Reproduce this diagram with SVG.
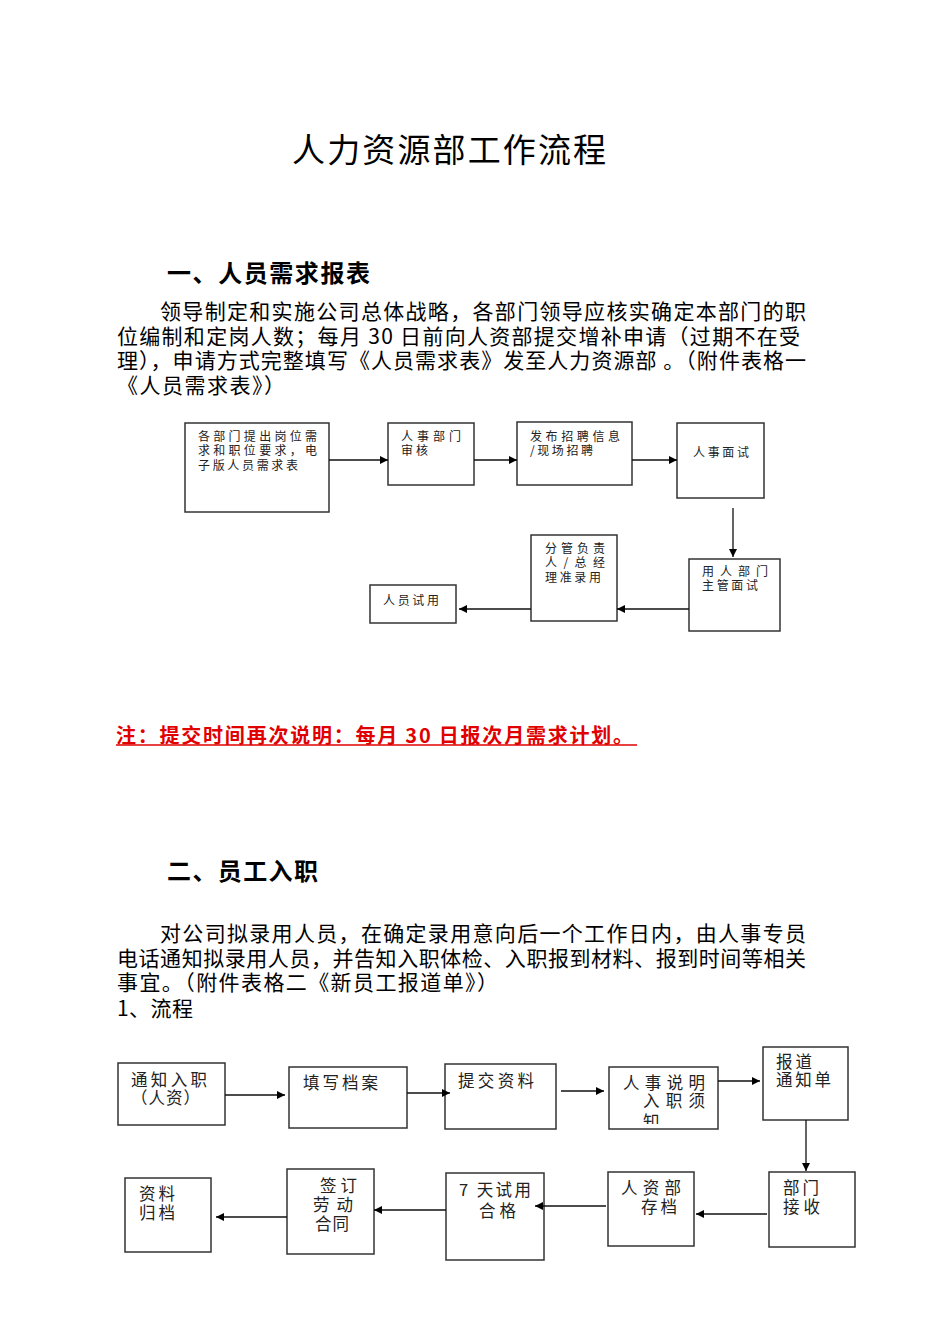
<svg xmlns="http://www.w3.org/2000/svg" width="950" height="1344" viewBox="0 0 950 1344">
<style>
text{font-family:"Noto Sans CJK SC","Noto Sans",sans-serif;fill:#000}
.t{font-size:33px}
.h{font-size:24px;font-weight:bold}
.p{font-size:21px}
.s{font-size:12px;fill:#222}
.m{font-size:16.5px;fill:#222}
.red{font-size:20px;font-weight:bold;fill:#e00000}
.box{fill:#fff;stroke:#333;stroke-width:1.5}
.ln{stroke:#111;stroke-width:1.3;fill:none;marker-end:url(#ah)}
</style>
<defs>
<marker id="ah" viewBox="0 0 10 10" refX="10" refY="5" markerWidth="8" markerHeight="8" markerUnits="userSpaceOnUse" orient="auto"><path d="M0,0L10,5L0,10z" fill="#000"/></marker>
<clipPath id="c4"><rect x="609" y="1067" width="109" height="57"/></clipPath>
</defs>
<rect width="950" height="1344" fill="#fff"/>
<text class="t" x="292" y="162" textLength="314">人力资源部工作流程</text>
<text class="h" x="167" y="282" textLength="203">一、人员需求报表</text>
<text class="p" x="160" y="319" textLength="646">领导制定和实施公司总体战略，各部门领导应核实确定本部门的职</text>
<text class="p" x="117" y="344" textLength="683">位编制和定岗人数；每月 30 日前向人资部提交增补申请（过期不在受</text>
<text class="p" x="117" y="368" textLength="689">理），申请方式完整填写《人员需求表》发至人力资源部 。（附件表格一</text>
<text class="p" x="117" y="393" textLength="168">《人员需求表》）</text>
<g id="n1a"><rect class="box" x="185" y="423" width="144" height="89"/>
<text class="s" x="198" y="441" textLength="119">各部门提出岗位需</text>
<text class="s" x="198" y="455" textLength="119">求和职位要求，电</text>
<text class="s" x="198" y="470" textLength="100">子版人员需求表</text></g>
<g id="n1b"><rect class="box" x="388" y="423" width="86" height="62"/>
<text class="s" x="401" y="441" textLength="60">人事部门</text>
<text class="s" x="401" y="455" textLength="27">审核</text></g>
<g id="n1c"><rect class="box" x="517" y="422" width="115" height="63"/>
<text class="s" x="530" y="441" textLength="90">发布招聘信息</text>
<text class="s" x="530" y="455" textLength="63">/现场招聘</text></g>
<g id="n1d"><rect class="box" x="677" y="423" width="87" height="75"/>
<text class="s" x="693" y="457" textLength="56">人事面试</text></g>
<g id="n1e"><rect class="box" x="689" y="559" width="91" height="72"/>
<text class="s" x="702" y="576" textLength="66">用人部门</text>
<text class="s" x="702" y="590" textLength="56">主管面试</text></g>
<g id="n1f"><rect class="box" x="531" y="535" width="86" height="86"/>
<text class="s" x="545" y="553" textLength="60">分管负责</text>
<text class="s" x="545" y="567" textLength="60">人/总经</text>
<text class="s" x="545" y="582" textLength="56">理准录用</text></g>
<g id="n1g"><rect class="box" x="370" y="585" width="86" height="38"/>
<text class="s" x="383" y="605" textLength="56">人员试用</text></g>
<g id="connectors1">
<line class="ln" x1="329" y1="460" x2="388" y2="460"/>
<line class="ln" x1="474" y1="460" x2="517" y2="460"/>
<line class="ln" x1="632" y1="460" x2="677" y2="460"/>
<line class="ln" x1="733" y1="508" x2="733" y2="557"/>
<line class="ln" x1="689" y1="609" x2="617" y2="609"/>
<line class="ln" x1="531" y1="609" x2="459" y2="609"/>
</g>
<text class="red" x="116" y="743" textLength="517">注：提交时间再次说明：每月 30 日报次月需求计划。</text>
<line x1="116" y1="745" x2="637" y2="745" stroke="#e00000" stroke-width="1.5"/>
<text class="h" x="167" y="880" textLength="151">二、员工入职</text>
<text class="p" x="160" y="941" textLength="646">对公司拟录用人员，在确定录用意向后一个工作日内，由人事专员</text>
<text class="p" x="117" y="966" textLength="689">电话通知拟录用人员，并告知入职体检、入职报到材料、报到时间等相关</text>
<text class="p" x="117" y="990" textLength="381">事宜。（附件表格二《新员工报道单》）</text>
<text class="p" x="117" y="1016" textLength="76">1、流程</text>
<g id="n2a"><rect class="box" x="118" y="1063" width="107" height="62"/>
<text class="m" x="131" y="1086" textLength="76">通知入职</text>
<text class="m" x="131" y="1104" textLength="69">（人资）</text></g>
<g id="n2b"><rect class="box" x="289" y="1067" width="118" height="61"/>
<text class="m" x="303" y="1089" textLength="75">填写档案</text></g>
<g id="n2c"><rect class="box" x="445" y="1064" width="111" height="65"/>
<text class="m" x="458" y="1087" textLength="76">提交资料</text></g>
<g id="n2d"><rect class="box" x="609" y="1067" width="109" height="62"/>
<text class="m" x="623" y="1089" textLength="82">人事说明</text>
<text class="m" x="643" y="1107" textLength="62">入职须</text>
<text class="m" x="643" y="1128" clip-path="url(#c4)">知</text></g>
<g id="n2e"><rect class="box" x="763" y="1047" width="85" height="73"/>
<text class="m" x="776" y="1068" textLength="36">报道</text>
<text class="m" x="776" y="1086" textLength="55">通知单</text></g>
<g id="n2f"><rect class="box" x="769" y="1172" width="86" height="75"/>
<text class="m" x="783" y="1194" textLength="36">部门</text>
<text class="m" x="783" y="1213" textLength="37">接收</text></g>
<g id="n2g"><rect class="box" x="608" y="1172" width="86" height="74"/>
<text class="m" x="621" y="1194" textLength="60">人资部</text>
<text class="m" x="641" y="1213" textLength="36">存档</text></g>
<g id="n2h"><rect class="box" x="446" y="1173" width="98" height="87"/>
<text class="m" x="459" y="1196" textLength="72">7 天试用</text>
<text class="m" x="479" y="1217" textLength="37">合格</text></g>
<g id="n2i"><rect class="box" x="287" y="1169" width="87" height="85"/>
<text class="m" x="320" y="1192" textLength="37">签 订</text>
<text class="m" x="313" y="1211" textLength="40">劳 动</text>
<text class="m" x="315" y="1230" textLength="34">合同</text></g>
<g id="n2j"><rect class="box" x="125" y="1178" width="86" height="74"/>
<text class="m" x="139" y="1200" textLength="36">资料</text>
<text class="m" x="139" y="1219" textLength="36">归档</text></g>
<g id="connectors2">
<line class="ln" x1="225" y1="1095" x2="285" y2="1095"/>
<line class="ln" x1="407" y1="1093" x2="450" y2="1093"/>
<line class="ln" x1="561" y1="1091" x2="604" y2="1091"/>
<line class="ln" x1="718" y1="1081" x2="760" y2="1081"/>
<line class="ln" x1="806" y1="1120" x2="806" y2="1171"/>
<line class="ln" x1="767" y1="1214" x2="696" y2="1214"/>
<line class="ln" x1="606" y1="1206" x2="535" y2="1206"/>
<line class="ln" x1="446" y1="1210" x2="374" y2="1210"/>
<line class="ln" x1="287" y1="1217" x2="216" y2="1217"/>
</g>
</svg>
